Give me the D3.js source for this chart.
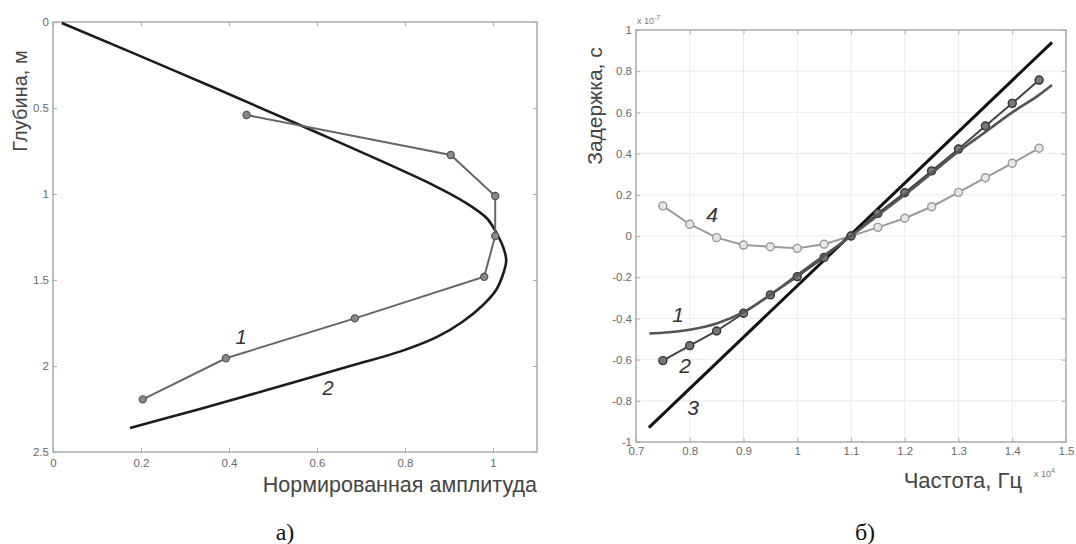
<!DOCTYPE html>
<html><head><meta charset="utf-8">
<script src="https://cdn.jsdelivr.net/npm/d3@7"></script>
<style>
html,body{margin:0;padding:0;background:#fff;}
svg{display:block;}
</style></head>
<body>
<svg id="chart" width="1076" height="544"></svg>
<script>
// ---------- Data: left panel (а) ----------
const leftXTicks = [0, 0.2, 0.4, 0.6, 0.8, 1];
const leftYTicks = [0, 0.5, 1, 1.5, 2, 2.5];
// Curve 1: measured amplitude vs depth (markers)
const meas1Amp   = [0.44, 0.904, 1.005, 1.005, 0.98, 0.686, 0.393, 0.204];
const meas1Depth = [0.541, 0.773, 1.012, 1.244, 1.481, 1.723, 1.955, 2.194];
// Curve 2: model amplitude vs depth (smooth)
const model2Amp   = [0.02, 0.289, 0.561, 0.864, 0.94, 0.986, 1.008, 1.023, 1.03, 1.023, 1.007, 0.975, 0.93, 0.873, 0.79, 0.675, 0.486, 0.334, 0.175];
const model2Depth = [0.006, 0.297, 0.599, 0.948, 1.054, 1.141, 1.227, 1.308, 1.384, 1.465, 1.558, 1.651, 1.744, 1.831, 1.915, 2.0, 2.14, 2.25, 2.36];

// ---------- Data: right panel (б) ----------
const rightXTicks = [0.7, 0.8, 0.9, 1, 1.1, 1.2, 1.3, 1.4, 1.5];
const rightYTicks = [-1, -0.8, -0.6, -0.4, -0.2, 0, 0.2, 0.4, 0.6, 0.8, 1];
const freqPts = [0.75, 0.8, 0.85, 0.9, 0.95, 1.0, 1.05, 1.1, 1.15, 1.2, 1.25, 1.3, 1.35, 1.4, 1.45];
const delay2 = [-0.605, -0.532, -0.461, -0.375, -0.286, -0.197, -0.104, 0.0, 0.110, 0.210, 0.316, 0.422, 0.534, 0.644, 0.757];
const delay4 = [0.146, 0.057, -0.008, -0.044, -0.052, -0.060, -0.040, 0.0, 0.042, 0.086, 0.142, 0.212, 0.283, 0.353, 0.426];
const freq1  = [0.725, 0.75, 0.8, 0.85, 0.9, 0.95, 1.0, 1.05, 1.1, 1.15, 1.2, 1.25, 1.3, 1.35, 1.4, 1.45, 1.474];
const delay1 = [-0.473, -0.470, -0.455, -0.425, -0.370, -0.285, -0.190, -0.095, 0.0, 0.100, 0.200, 0.305, 0.410, 0.505, 0.600, 0.685, 0.733];
const freq3  = [0.724, 1.474];
const delay3 = [-0.93, 0.94];

const svg = d3.select("#chart");
const tickFont = "Liberation Sans, Arial, sans-serif";
const axisColor = "#aaa";
const tickTextColor = "#6a6a6a";

function styleAxis(g){
  g.select(".domain").remove();
  g.selectAll(".tick line").attr("stroke", axisColor).attr("stroke-width", 1);
  g.selectAll(".tick text").attr("fill", tickTextColor).attr("font-family", tickFont).attr("font-size", 11.5);
}

// ================= LEFT PANEL =================
const xL = d3.scaleLinear().domain([0, 1.1]).range([53, 537]);
const yL = d3.scaleLinear().domain([0, 2.5]).range([22, 452]);
const fmt = d => String(d);

const gL = svg.append("g");
gL.append("g").attr("transform", `translate(0,${yL(2.5)})`)
  .call(d3.axisBottom(xL).tickValues(leftXTicks).tickFormat(fmt).tickSize(-4).tickPadding(7)).call(styleAxis);
gL.append("g").attr("transform", `translate(0,${yL(0)})`)
  .call(d3.axisTop(xL).tickValues(leftXTicks).tickFormat("").tickSize(-4)).call(styleAxis);
gL.append("g").attr("transform", `translate(${xL(0)},0)`)
  .call(d3.axisLeft(yL).tickValues(leftYTicks).tickFormat(fmt).tickSize(-4).tickPadding(4)).call(styleAxis);
gL.append("g").attr("transform", `translate(${xL(1.1)},0)`)
  .call(d3.axisRight(yL).tickValues(leftYTicks).tickFormat("").tickSize(-4)).call(styleAxis);
gL.append("rect").attr("x", xL(0)).attr("y", yL(0)).attr("width", xL(1.1)-xL(0)).attr("height", yL(2.5)-yL(0))
  .attr("fill", "none").attr("stroke", axisColor).attr("stroke-width", 1.5);

// model curve 2
const model2 = model2Amp.map((a,i)=>({x:a, y:model2Depth[i]}));
gL.append("path").datum(model2)
  .attr("d", d3.line().x(d=>xL(d.x)).y(d=>yL(d.y)).curve(d3.curveCatmullRom.alpha(0.5)))
  .attr("fill","none").attr("stroke","#1c1c1c").attr("stroke-width",2.6);
// measured curve 1
const meas1 = meas1Amp.map((a,i)=>({x:a, y:meas1Depth[i]}));
gL.append("path").datum(meas1)
  .attr("d", d3.line().x(d=>xL(d.x)).y(d=>yL(d.y)))
  .attr("fill","none").attr("stroke","#666").attr("stroke-width",2);
gL.selectAll("circle.m1").data(meas1).enter().append("circle")
  .attr("cx", d=>xL(d.x)).attr("cy", d=>yL(d.y)).attr("r", 3.6)
  .attr("fill","#888").attr("stroke","#555").attr("stroke-width",1.2);

// labels
gL.append("text").attr("x", 241).attr("y", 344).text("1")
  .attr("font-family", tickFont).attr("font-style","italic").attr("font-size",20).attr("fill","#333").attr("text-anchor","middle");
gL.append("text").attr("x", 328).attr("y", 395).text("2")
  .attr("font-family", tickFont).attr("font-style","italic").attr("font-size",20).attr("fill","#333").attr("text-anchor","middle");
gL.append("text").attr("transform", `translate(27,101) rotate(-90)`).attr("text-anchor","middle")
  .attr("font-family", tickFont).attr("font-size",20).attr("fill","#444").text("Глубина, м");
gL.append("text").attr("x", 537).attr("y", 492).attr("text-anchor","end")
  .attr("font-family", tickFont).attr("font-size",21.5).attr("fill","#444").text("Нормированная амплитуда");
gL.append("text").attr("x", 285).attr("y", 540).attr("text-anchor","middle")
  .attr("font-family", "Liberation Serif, Times New Roman, serif").attr("font-size",24).attr("fill","#111").text("а)");

// ================= RIGHT PANEL =================
const xR = d3.scaleLinear().domain([0.7, 1.5]).range([636, 1066]);
const yR = d3.scaleLinear().domain([-1, 1]).range([442, 30]);
const gR = svg.append("g");

// grid
gR.append("g").selectAll("line.gx").data(rightXTicks.slice(1,-1)).enter().append("line")
  .attr("x1", d=>xR(d)).attr("x2", d=>xR(d)).attr("y1", yR(-1)).attr("y2", yR(1))
  .attr("stroke","#ececec").attr("stroke-width",1);
gR.append("g").selectAll("line.gy").data(rightYTicks.slice(1,-1)).enter().append("line")
  .attr("y1", d=>yR(d)).attr("y2", d=>yR(d)).attr("x1", xR(0.7)).attr("x2", xR(1.5))
  .attr("stroke","#ececec").attr("stroke-width",1);

gR.append("g").attr("transform", `translate(0,${yR(-1)})`)
  .call(d3.axisBottom(xR).tickValues(rightXTicks).tickFormat(fmt).tickSize(-4).tickPadding(5)).call(styleAxis);
gR.append("g").attr("transform", `translate(0,${yR(1)})`)
  .call(d3.axisTop(xR).tickValues(rightXTicks).tickFormat("").tickSize(-4)).call(styleAxis);
gR.append("g").attr("transform", `translate(${xR(0.7)},0)`)
  .call(d3.axisLeft(yR).tickValues(rightYTicks).tickFormat(fmt).tickSize(-4).tickPadding(4)).call(styleAxis);
gR.append("g").attr("transform", `translate(${xR(1.5)},0)`)
  .call(d3.axisRight(yR).tickValues(rightYTicks).tickFormat("").tickSize(-4)).call(styleAxis);
gR.append("rect").attr("x", xR(0.7)).attr("y", yR(1)).attr("width", xR(1.5)-xR(0.7)).attr("height", yR(-1)-yR(1))
  .attr("fill","none").attr("stroke",axisColor).attr("stroke-width",1.5);

const lineR = d3.line().x(d=>xR(d.x)).y(d=>yR(d.y));
// series 4
const s4 = freqPts.map((f,i)=>({x:f, y:delay4[i]}));
gR.append("path").datum(s4).attr("d", lineR).attr("fill","none").attr("stroke","#9a9a9a").attr("stroke-width",2);
gR.selectAll("circle.s4").data(s4).enter().append("circle")
  .attr("cx", d=>xR(d.x)).attr("cy", d=>yR(d.y)).attr("r", 4)
  .attr("fill","#e6e6e6").attr("stroke","#999").attr("stroke-width",1.4);
// series 3
const s3 = freq3.map((f,i)=>({x:f, y:delay3[i]}));
gR.append("path").datum(s3).attr("d", lineR).attr("fill","none").attr("stroke","#111").attr("stroke-width",3);
// series 2
const s2 = freqPts.map((f,i)=>({x:f, y:delay2[i]}));
gR.append("path").datum(s2).attr("d", lineR).attr("fill","none").attr("stroke","#444").attr("stroke-width",2);
gR.selectAll("circle.s2").data(s2).enter().append("circle")
  .attr("cx", d=>xR(d.x)).attr("cy", d=>yR(d.y)).attr("r", 4)
  .attr("fill","#777").attr("stroke","#333").attr("stroke-width",1.4);
// series 1
const s1 = freq1.map((f,i)=>({x:f, y:delay1[i]}));
gR.append("path").datum(s1).attr("d", d3.line().x(d=>xR(d.x)).y(d=>yR(d.y)).curve(d3.curveMonotoneX))
  .attr("fill","none").attr("stroke","#555").attr("stroke-width",2.6);

// labels
const lab = (x,y,t)=>gR.append("text").attr("x",x).attr("y",y).text(t).attr("text-anchor","middle")
  .attr("font-family", tickFont).attr("font-style","italic").attr("font-size",21).attr("fill","#333");
lab(712, 222, "4");
lab(678, 322, "1");
lab(685, 373, "2");
lab(693, 415, "3");

gR.append("text").attr("transform", `translate(602,106) rotate(-90)`).attr("text-anchor","middle")
  .attr("font-family", tickFont).attr("font-size",21).attr("fill","#444").text("Задержка, с");
gR.append("text").attr("x", 1022).attr("y", 488).attr("text-anchor","end")
  .attr("font-family", tickFont).attr("font-size",22).attr("fill","#444").text("Частота, Гц");
const exp1 = gR.append("text").attr("x", 1034).attr("y", 477)
  .attr("font-family", tickFont).attr("font-size",9).attr("fill","#777");
exp1.append("tspan").text("x 10");
exp1.append("tspan").attr("dy",-4).attr("font-size",7).text("4");
const exp2 = gR.append("text").attr("x", 637).attr("y", 24)
  .attr("font-family", tickFont).attr("font-size",9).attr("fill","#777");
exp2.append("tspan").text("x 10");
exp2.append("tspan").attr("dy",-4).attr("font-size",7).text("-7");
gR.append("text").attr("x", 865).attr("y", 540).attr("text-anchor","middle")
  .attr("font-family", "Liberation Serif, Times New Roman, serif").attr("font-size",24).attr("fill","#111").text("б)");
</script>
</body></html>
